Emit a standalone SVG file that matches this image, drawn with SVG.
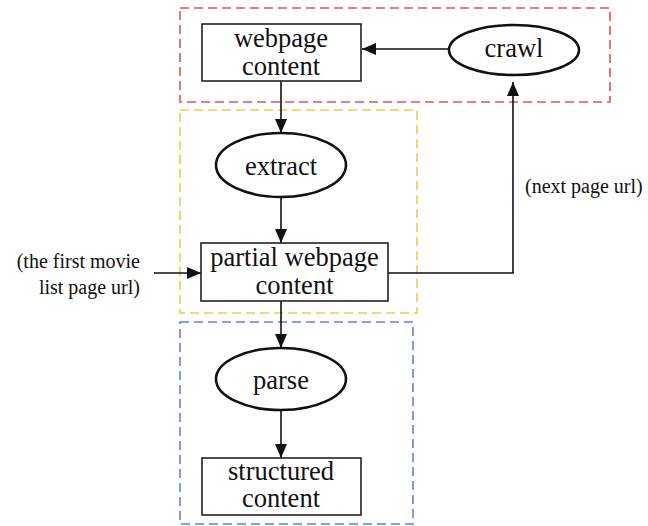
<svg xmlns="http://www.w3.org/2000/svg" width="648" height="526" viewBox="0 0 648 526">
<style>
text{font-family:"Liberation Serif","Times New Roman",serif;fill:#111}
.n{font-size:26.5px;text-anchor:middle}
.l{font-size:20px}
.box{fill:#fff;stroke:#222;stroke-width:1.6}
.ell{fill:#fff;stroke:#111;stroke-width:2.6}
.grp{fill:none;stroke-width:1.6;stroke-dasharray:9,5}
.c{fill:none;stroke:#111;stroke-width:1.6}
</style>
<defs>
<marker id="ah" viewBox="0 0 14 12" refX="14" refY="6" markerWidth="14" markerHeight="12" markerUnits="userSpaceOnUse" orient="auto">
<path d="M0,0 L14,6 L0,12 z" fill="#111"/>
</marker>
</defs>
<g id="groups">
<rect class="grp" x="180" y="8" width="430" height="94" stroke="#e8534d"/>
<rect class="grp" x="180" y="110" width="237" height="203" stroke="#f6c94c"/>
<rect class="grp" x="180" y="322" width="233" height="202" stroke="#5f83d2"/>
</g>
<g id="connectors">
<line class="c" x1="449" y1="49" x2="362" y2="49" marker-end="url(#ah)"/>
<line class="c" x1="281" y1="81" x2="281" y2="133" marker-end="url(#ah)"/>
<line class="c" x1="281" y1="197" x2="281" y2="243" marker-end="url(#ah)"/>
<line class="c" x1="281" y1="301" x2="281" y2="348" marker-end="url(#ah)"/>
<line class="c" x1="281" y1="410" x2="281" y2="458" marker-end="url(#ah)"/>
<line class="c" x1="154" y1="273" x2="201" y2="273" marker-end="url(#ah)"/>
<polyline class="c" points="388,273 513,273 513,82" marker-end="url(#ah)"/>
</g>
<g id="webpage-content">
<rect class="box" x="202" y="24" width="159" height="57"/>
<text class="n" x="281" y="47">webpage</text>
<text class="n" x="281" y="75">content</text>
</g>
<g id="crawl">
<ellipse class="ell" cx="514" cy="50" rx="65" ry="25"/>
<text class="n" x="514" y="57">crawl</text>
</g>
<g id="extract">
<ellipse class="ell" cx="281" cy="165" rx="65" ry="32"/>
<text class="n" x="281" y="175">extract</text>
</g>
<g id="partial-webpage-content">
<rect class="box" x="201" y="243" width="187" height="58"/>
<text class="n" x="294.5" y="266">partial webpage</text>
<text class="n" x="294.5" y="294">content</text>
</g>
<g id="parse">
<ellipse class="ell" cx="281" cy="379" rx="65" ry="31"/>
<text class="n" x="281" y="389">parse</text>
</g>
<g id="structured-content">
<rect class="box" x="202" y="458" width="159" height="57"/>
<text class="n" x="281" y="480">structured</text>
<text class="n" x="281" y="507">content</text>
</g>
<g id="labels">
<text class="l" x="140" y="268" text-anchor="end">(the first movie</text>
<text class="l" x="140" y="294" text-anchor="end">list page url)</text>
<text class="l" x="525" y="193">(next page url)</text>
</g>
</svg>
